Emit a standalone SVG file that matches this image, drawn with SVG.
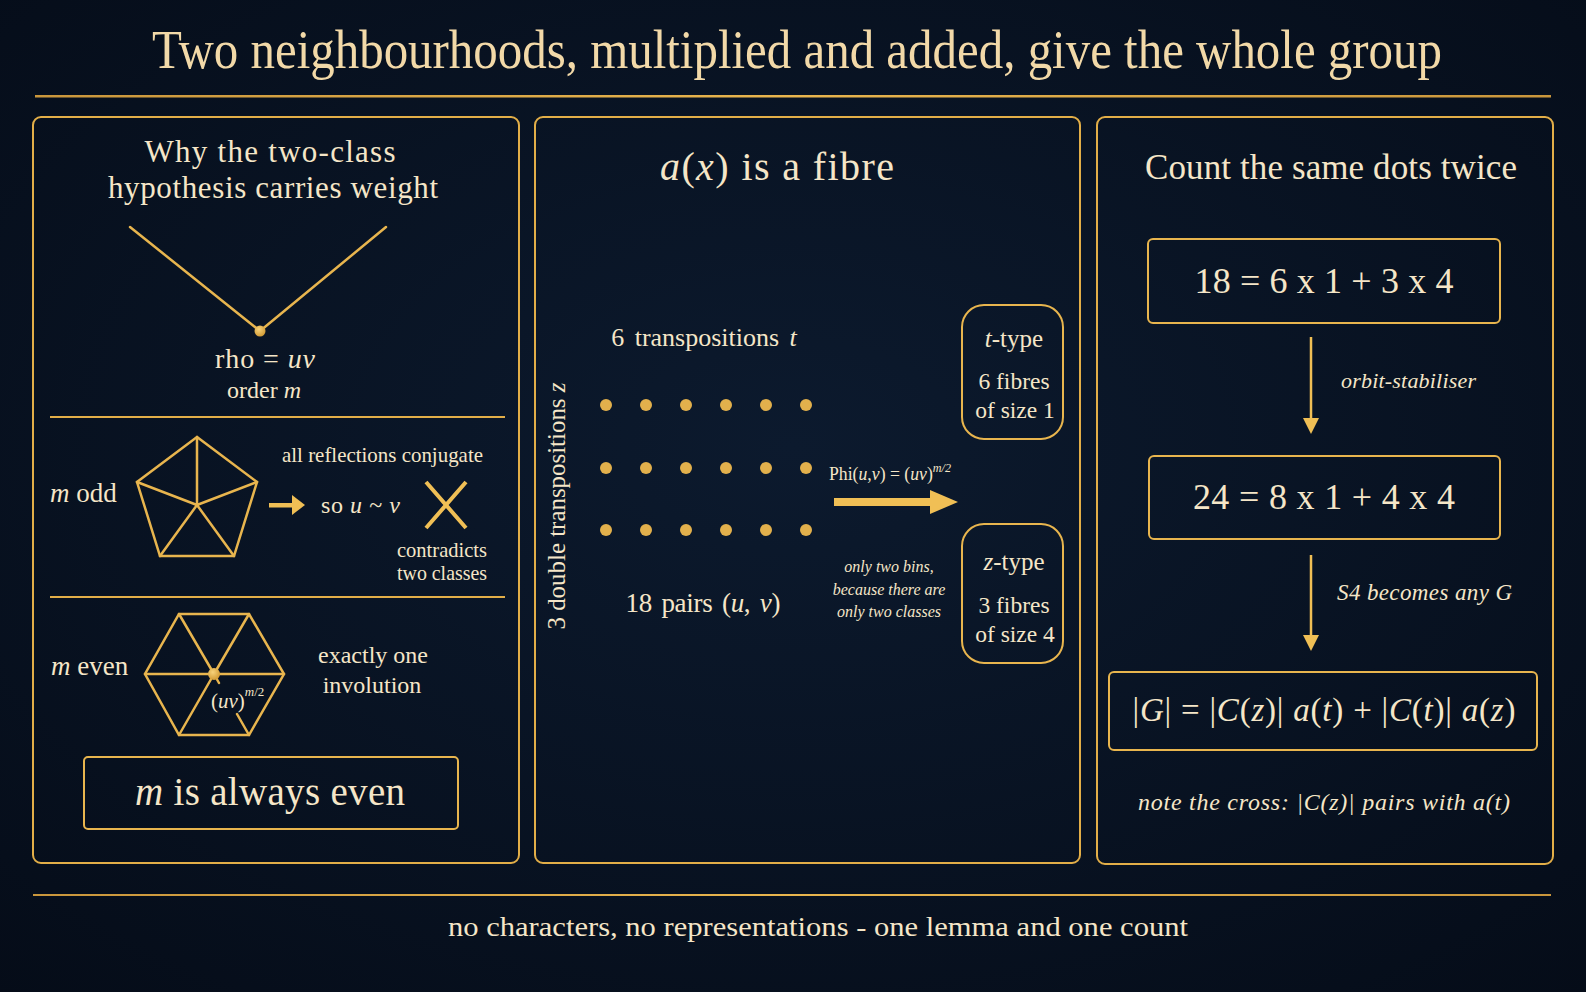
<svg xmlns="http://www.w3.org/2000/svg" width="1586" height="992" viewBox="0 0 1586 992">
<defs>
<radialGradient id="bg" cx="50%" cy="45%" r="75%">
<stop offset="0" stop-color="#0c1a2e"/>
<stop offset="1" stop-color="#050c18"/>
</radialGradient>
<linearGradient id="rule" gradientUnits="userSpaceOnUse" x1="33" y1="0" x2="1551" y2="0">
<stop offset="0" stop-color="#c9963c"/>
<stop offset="0.5" stop-color="#e8b54e"/>
<stop offset="1" stop-color="#c9963c"/>
</linearGradient>
<radialGradient id="dotg" cx="40%" cy="35%" r="65%">
<stop offset="0" stop-color="#f7d27a"/>
<stop offset="1" stop-color="#d39c36"/>
</radialGradient>
<style>
.panel{fill:none;stroke:#e2ae48;stroke-width:2}
.box{fill:none;stroke:#e8b54e;stroke-width:2}
.ln{stroke:#e8b54e;stroke-width:2.5;fill:none;stroke-linecap:round}
.div{stroke:#e2ae48;stroke-width:2}
.t{font-family:"Liberation Serif","Times New Roman",serif;fill:#f5e6c8}
.i{font-style:italic}
.mid{text-anchor:middle}
.dot{fill:#e2b04c}
.gold{fill:#f0bf55}
</style>
</defs>
<rect x="0" y="0" width="1586" height="992" fill="url(#bg)"/>

<g id="header">
<text class="t mid" x="797" y="68" font-size="54" textLength="1290" lengthAdjust="spacingAndGlyphs" style="fill:#f2d9a8">Two neighbourhoods, multiplied and added, give the whole group</text>
<rect x="35" y="95" width="1516" height="2.5" fill="url(#rule)"/>
</g>

<g id="panel-left">
<rect class="panel" x="33" y="117" width="486" height="746" rx="8"/>
<text class="t mid" x="270" y="162" font-size="31" textLength="251">Why the two-class</text>
<text class="t mid" x="273" y="198" font-size="31" textLength="330">hypothesis carries weight</text>
<line class="ln" x1="130" y1="227" x2="260" y2="331"/>
<line class="ln" x1="386" y1="227" x2="260" y2="331"/>
<circle cx="260" cy="331" r="5.5" fill="url(#dotg)"/>
<text class="t mid" x="265" y="368" font-size="28" textLength="100">rho = <tspan class="i">uv</tspan></text>
<text class="t mid" x="264" y="398" font-size="24">order <tspan class="i">m</tspan></text>
<line class="div" x1="50" y1="417" x2="505" y2="417"/>

<g id="odd-case">
<text class="t" x="50" y="502" font-size="27"><tspan class="i">m</tspan> odd</text>
<polygon class="ln" points="197,437 257,482 234,556 160,556 137,482"/>
<path class="ln" d="M197,505 L197,437 M197,505 L257,482 M197,505 L234,556 M197,505 L160,556 M197,505 L137,482"/>
<rect x="269" y="503" width="25" height="4.5" class="gold"/>
<polygon points="292,495 305,505 292,515" class="gold"/>
<text class="t" x="282" y="462" font-size="22" textLength="201" lengthAdjust="spacingAndGlyphs">all reflections conjugate</text>
<text class="t" x="321" y="513" font-size="24" textLength="79">so <tspan class="i">u</tspan> ~ <tspan class="i">v</tspan></text>
<path d="M426,482 L466,528 M466,482 L426,528" stroke="#f0bf55" stroke-width="4" fill="none"/>
<text class="t mid" x="442" y="557" font-size="21" textLength="90" lengthAdjust="spacingAndGlyphs">contradicts</text>
<text class="t mid" x="442" y="580" font-size="21" textLength="90" lengthAdjust="spacingAndGlyphs">two classes</text>
</g>
<line class="div" x1="50" y1="597" x2="505" y2="597"/>

<g id="even-case">
<text class="t" x="51" y="675" font-size="27"><tspan class="i">m</tspan> even</text>
<polygon class="ln" points="179,614 249,614 284,674 249,735 179,735 145,674"/>
<path class="ln" d="M145,674 L284,674 M179,614 L214,674 M249,614 L214,674 M214,674 L179,735 M214,674 L219,683 M237,714 L249,735"/>
<circle cx="214" cy="674" r="6" fill="url(#dotg)"/>
<text class="t" x="211" y="708" font-size="21">(<tspan class="i">uv</tspan>)<tspan class="i" font-size="13" dy="-12">m</tspan><tspan font-size="13">/2</tspan></text>
<text class="t mid" x="373" y="663" font-size="24">exactly one</text>
<text class="t mid" x="372" y="693" font-size="24">involution</text>
</g>

<g id="conclusion">
<rect class="box" x="84" y="757" width="374" height="72" rx="4"/>
<text class="t mid" x="270" y="805" font-size="39" textLength="270"><tspan class="i">m</tspan> is always even</text>
</g>
</g>

<g id="panel-middle">
<rect class="panel" x="535" y="117" width="545" height="746" rx="8"/>
<text class="t mid" x="777" y="180" font-size="40" textLength="234"><tspan class="i">a</tspan>(<tspan class="i">x</tspan>) is a fibre</text>
<text class="t mid" x="704" y="346" font-size="26" word-spacing="4">6 transpositions <tspan class="i">t</tspan></text>
<text class="t mid" transform="translate(565,506) rotate(-90)" x="0" y="0" font-size="25" textLength="247">3 double transpositions <tspan class="i">z</tspan></text>
<g id="dots">
<circle class="dot" cx="606" cy="405" r="6"/><circle class="dot" cx="646" cy="405" r="6"/><circle class="dot" cx="686" cy="405" r="6"/><circle class="dot" cx="726" cy="405" r="6"/><circle class="dot" cx="766" cy="405" r="6"/><circle class="dot" cx="806" cy="405" r="6"/>
<circle class="dot" cx="606" cy="468" r="6"/><circle class="dot" cx="646" cy="468" r="6"/><circle class="dot" cx="686" cy="468" r="6"/><circle class="dot" cx="726" cy="468" r="6"/><circle class="dot" cx="766" cy="468" r="6"/><circle class="dot" cx="806" cy="468" r="6"/>
<circle class="dot" cx="606" cy="530" r="6"/><circle class="dot" cx="646" cy="530" r="6"/><circle class="dot" cx="686" cy="530" r="6"/><circle class="dot" cx="726" cy="530" r="6"/><circle class="dot" cx="766" cy="530" r="6"/><circle class="dot" cx="806" cy="530" r="6"/>
</g>
<text class="t mid" x="703" y="612" font-size="27" word-spacing="3" textLength="155">18 pairs (<tspan class="i">u</tspan>, <tspan class="i">v</tspan>)</text>
<text class="t" x="829" y="480" font-size="19" textLength="122" lengthAdjust="spacingAndGlyphs">Phi(<tspan class="i">u</tspan>,<tspan class="i">v</tspan>) = (<tspan class="i">uv</tspan>)<tspan class="i" font-size="13" dy="-8">m/2</tspan></text>
<text class="t i mid" x="889" y="572" font-size="16">only two bins,</text>
<text class="t i mid" x="889" y="595" font-size="16">because there are</text>
<text class="t i mid" x="889" y="617" font-size="16">only two classes</text>
</g>

<g id="node-t-type">
<rect class="box" x="962" y="305" width="101" height="134" rx="22"/>
<text class="t mid" x="1014" y="347" font-size="25"><tspan class="i">t</tspan>-type</text>
<text class="t mid" x="1014" y="389" font-size="23.5">6 fibres</text>
<text class="t mid" x="1015" y="418" font-size="23.5">of size 1</text>
</g>
<g id="node-z-type">
<rect class="box" x="962" y="524" width="101" height="139" rx="22"/>
<text class="t mid" x="1014" y="570" font-size="25"><tspan class="i">z</tspan>-type</text>
<text class="t mid" x="1014" y="613" font-size="23.5">3 fibres</text>
<text class="t mid" x="1015" y="642" font-size="23.5">of size 4</text>
</g>

<g id="panel-right">
<rect class="panel" x="1097" y="117" width="456" height="747" rx="8"/>
<text class="t mid" x="1331" y="179" font-size="35" textLength="372">Count the same dots twice</text>
</g>
<g id="node-eq1">
<rect class="box" x="1148" y="239" width="352" height="84" rx="5"/>
<text class="t mid" x="1324" y="293" font-size="36" textLength="259">18 = 6 x 1 + 3 x 4</text>
</g>
<g id="node-eq2">
<rect class="box" x="1149" y="456" width="351" height="83" rx="5"/>
<text class="t mid" x="1324" y="509" font-size="36" textLength="262">24 = 8 x 1 + 4 x 4</text>
</g>
<g id="node-eq3">
<rect class="box" x="1109" y="672" width="428" height="78" rx="5"/>
<text class="t mid" x="1324" y="721" font-size="33" textLength="383">|<tspan class="i">G</tspan>|  =  |<tspan class="i">C</tspan>(<tspan class="i">z</tspan>)| <tspan class="i">a</tspan>(<tspan class="i">t</tspan>) + |<tspan class="i">C</tspan>(<tspan class="i">t</tspan>)| <tspan class="i">a</tspan>(<tspan class="i">z</tspan>)</text>
</g>
<text class="t i mid" x="1324" y="810" font-size="24" textLength="372">note the cross: |C(z)| pairs with a(t)</text>

<g id="connectors">
<rect x="834" y="498" width="98" height="8" class="gold"/>
<polygon points="930,490 958,502 930,514" class="gold"/>
<line x1="1311" y1="337" x2="1311" y2="420" stroke="#f0bf55" stroke-width="2.5"/>
<polygon points="1303,418 1319,418 1311,434" class="gold"/>
<text class="t i" x="1341" y="388" font-size="22" textLength="135">orbit-stabiliser</text>
<line x1="1311" y1="555" x2="1311" y2="637" stroke="#f0bf55" stroke-width="2.5"/>
<polygon points="1303,635 1319,635 1311,651" class="gold"/>
<text class="t i" x="1337" y="600" font-size="23" textLength="175">S4 becomes any G</text>
</g>

<g id="footer">
<rect x="33" y="894" width="1518" height="2" fill="url(#rule)"/>
<text class="t mid" x="818" y="936" font-size="27" textLength="740" lengthAdjust="spacingAndGlyphs">no characters, no representations - one lemma and one count</text>
</g>
</svg>
